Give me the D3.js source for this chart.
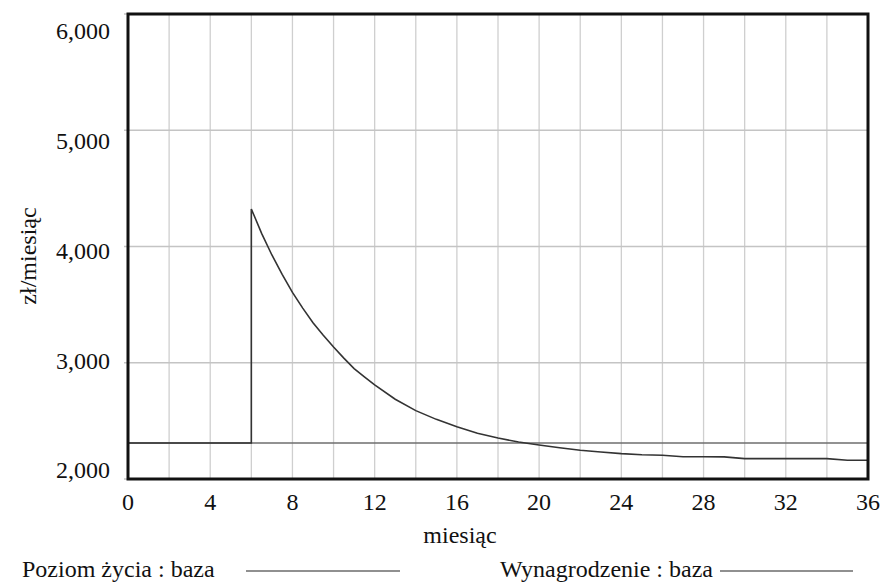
<!DOCTYPE html>
<html>
<head>
<meta charset="utf-8">
<script src="https://cdn.jsdelivr.net/npm/d3@7/dist/d3.min.js"></script>
<style>
svg text { font-family: "Liberation Serif", "DejaVu Serif", monospace !important; }
</style>
</head>
<body style="margin:0">
<svg id="chart" width="883" height="584" font-family="Liberation Serif"></svg>
<script>
// Data
const months = [0, 6, 6, 6.5, 7, 7.5, 8, 8.5, 9, 9.5, 10, 10.5, 11, 11.5, 12, 13, 14, 15, 16, 17, 18, 19, 20, 21, 22, 23, 24, 25, 26, 27, 28, 29, 30, 31, 32, 33, 34, 35, 36];
const poziomZycia = [2310, 2310, 4323, 4113, 3927, 3760, 3605, 3470, 3345, 3237, 3135, 3040, 2950, 2878, 2809, 2686, 2588, 2513, 2450, 2393, 2353, 2318, 2292, 2269, 2247, 2232, 2218, 2209, 2204, 2192, 2192, 2190, 2175, 2175, 2175, 2175, 2175, 2161, 2161];
const wynMonths = [0, 36];
const wynagrodzenie = [2310, 2310];
const xTicks = [0, 4, 8, 12, 16, 20, 24, 28, 32, 36];
const xGrid = d3.range(0, 37, 2);
const yTicks = [2000, 3000, 4000, 5000, 6000];
const yTickLabels = ["2,000", "3,000", "4,000", "5,000", "6,000"];
const seriesNames = ["Poziom życia : baza", "Wynagrodzenie : baza"];

const FONT = '"Liberation Serif", "DejaVu Serif", monospace';
const svg = d3.select("#chart");
const L = 128, R = 868, T = 14, B = 479;
const x = d3.scaleLinear().domain([0, 36]).range([L, R]);
const y = d3.scaleLinear().domain([2000, 6000]).range([B, T]);
const yLab = d3.scaleLinear().domain([2000, 6000]).range([B - 9, T + 17]);

// grid
svg.append("g").selectAll("line").data(xGrid).join("line")
  .attr("x1", d => x(d)).attr("x2", d => x(d))
  .attr("y1", T).attr("y2", B)
  .attr("stroke", "#cfcfcf").attr("stroke-width", 1.3);
svg.append("g").selectAll("line").data(yTicks).join("line")
  .attr("x1", L - 4).attr("x2", R)
  .attr("y1", d => y(d)).attr("y2", d => y(d))
  .attr("stroke", "#c4c4c4").attr("stroke-width", 1.3);

// series
const line = d3.line().x(d => x(d[0])).y(d => y(d[1]));
svg.append("path")
  .datum(wynMonths.map((m, i) => [m, wynagrodzenie[i]]))
  .attr("d", line).attr("fill", "none")
  .attr("stroke", "#6e6e6e").attr("stroke-width", 1.6);
svg.append("path")
  .datum(months.map((m, i) => [m, poziomZycia[i]]))
  .attr("d", line).attr("fill", "none")
  .attr("stroke", "#333").attr("stroke-width", 1.6);

// border
svg.append("rect").attr("x", L).attr("y", T).attr("width", R - L).attr("height", B - T)
  .attr("fill", "none").attr("stroke", "#111").attr("stroke-width", 3);

const txt = sel => sel.attr("fill", "#111").attr("font-size", 24)
  .attr("font-family", "Liberation Serif").style("font-family", FONT);

// x tick labels
svg.append("g").selectAll("text").data(xTicks).join("text").call(txt)
  .attr("x", d => x(d)).attr("y", 510)
  .attr("text-anchor", "middle")
  .text(d => d);

// y tick labels
svg.append("g").selectAll("text").data(yTicks).join("text").call(txt)
  .attr("x", 110).attr("y", d => yLab(d)).attr("dy", "0.35em")
  .attr("text-anchor", "end")
  .text((d, i) => yTickLabels[i]);

// axis titles
svg.append("text").call(txt).attr("x", 460).attr("y", 543)
  .attr("text-anchor", "middle").text("miesiąc");
svg.append("text").call(txt).attr("transform", "translate(36,256) rotate(-90)")
  .attr("text-anchor", "middle").text("zł/miesiąc");

// legend
svg.append("text").call(txt).attr("x", 22).attr("y", 577).text(seriesNames[0]);
svg.append("line").attr("x1", 246).attr("x2", 400).attr("y1", 571).attr("y2", 571)
  .attr("stroke", "#222").attr("stroke-width", 1.2);
svg.append("text").call(txt).attr("x", 713).attr("y", 577).attr("text-anchor", "end")
  .text(seriesNames[1]);
svg.append("line").attr("x1", 720).attr("x2", 853).attr("y1", 571).attr("y2", 571)
  .attr("stroke", "#222").attr("stroke-width", 1.2);
</script>
</body>
</html>
